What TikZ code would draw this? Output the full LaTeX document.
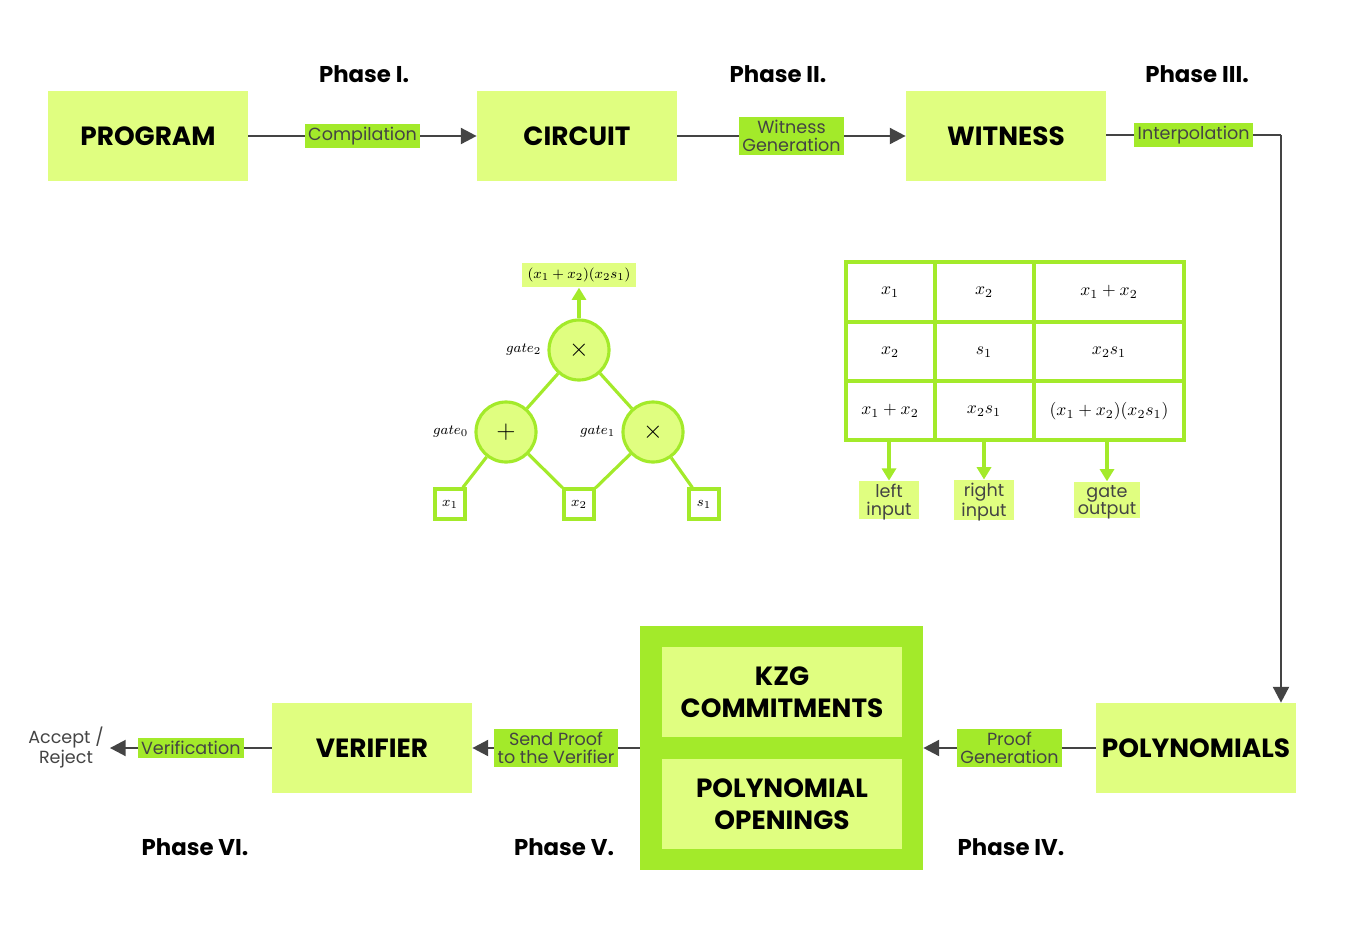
\documentclass[tikz,border=0pt]{standalone}
\usepackage{amsmath}
\usepackage{fontspec}
\setmainfont{Poppins}
\usetikzlibrary{positioning,arrows.meta}
\definecolor{lgreen}{HTML}{E0FE80}
\definecolor{bgreen}{HTML}{A3EA2A}
\definecolor{lgray}{HTML}{444444}
\tikzset{>={Triangle[width=9pt,length=9pt]},
  stage/.style = {fill=lgreen,minimum width=4cm,minimum height=1.8cm,font=\bfseries\fontsize{15}{18}\selectfont,align=center},
  edgelab/.style = {fill=bgreen,font=\fontsize{10}{10}\selectfont,text=lgray,align=center,inner sep=2pt},
  phase/.style = {font=\bfseries\fontsize{13}{15}\selectfont},
  flow/.style = {draw=lgray,line width=1.5pt},
  gate/.style = {shape=circle,draw=bgreen,fill=lgreen,line width=1.8pt,minimum size=1.2cm,font=\Large},
  wire/.style = {draw=bgreen,line width=1.8pt},
  inbox/.style = {draw=bgreen,fill=white,line width=1.8pt,minimum size=0.6cm,inner sep=0pt,font=\footnotesize},
  inlab/.style = {fill=lgreen,font=\fontsize{10}{10}\selectfont,text=lgray,align=center,minimum width=1.2cm,inner sep=2pt,text depth=0pt}}
\begin{document}
\begin{tikzpicture}[x=0.02cm,y=-0.02cm]
\useasboundingbox (0,0) rectangle (1350,934);
% stages
\node[stage] (prog) at (148,136) {PROGRAM};
\node[stage] (circ) at (577,136) {CIRCUIT};
\node[stage] (wit) at (1006,136) {WITNESS};
\node[stage] (poly) at (1196,748) {POLYNOMIALS};
\node[stage] (ver) at (372,748) {VERIFIER};
\node[fill=bgreen,minimum width=5.66cm,minimum height=4.88cm] (kzg) at (781.5,748) {};
\node[stage,minimum width=4.8cm] (com) at (782,692) {KZG\\COMMITMENTS};
\node[stage,minimum width=4.8cm] (open) at (782,804) {POLYNOMIAL\\OPENINGS};
\node (acc) at (66,748) {\fontsize{10}{11}\selectfont\color{lgray}\begin{tabular}{@{}c@{}}Accept /\\Reject\end{tabular}};
\coordinate (turn) at (1281,135);
% phases
\node[phase] at (364,74) {Phase I.};
\node[phase] at (778,74) {Phase II.};
\node[phase] at (1197,74) {Phase III.};
\node[phase] at (1011,847) {Phase IV.};
\node[phase] at (564,847) {Phase V.};
\node[phase] at (195,847) {Phase VI.};
% flow
\draw[flow,->] (prog) -- node[edgelab] {Compilation} (circ);
\draw[flow,->] (circ) -- node[edgelab] {Witness\\Generation} (wit);
\draw[flow] (wit.east |- turn) -- node[edgelab] {Interpolation} (turn);
\draw[flow,->] (turn) -- (turn |- poly.north);
\draw[flow,->] (poly) -- node[edgelab] {Proof\\Generation} (kzg);
\draw[flow,->] (kzg) -- node[edgelab] {Send Proof\\to the Verifier} (ver);
\draw[flow,->] (ver) -- node[edgelab] {Verification} (acc);
% circuit
\node[gate] (g2) at (579,350) {$\times$};
\node[gate] (g0) at (506,432) {$+$};
\node[gate] (g1) at (653,432) {$\times$};
\node[left=0pt of g2,font=\footnotesize] {$gate_2$};
\node[left=0pt of g0,font=\footnotesize] {$gate_0$};
\node[left=0pt of g1,font=\footnotesize] {$gate_1$};
\node[inbox] (x1) at (450,504) {$x_1$};
\node[inbox] (x2) at (579,504) {$x_2$};
\node[inbox] (s1) at (704,504) {$s_1$};
\node[fill=lgreen,font=\footnotesize,inner sep=3pt] (out) at (579,275) {$(x_1+x_2)(x_2s_1)$};
\draw[wire] (g0) -- (g2) (g1) -- (g2) (x1) -- (g0) (x2) -- (g0) (x2) -- (g1) (s1) -- (g1);
\draw[wire,-{Triangle[width=8pt,length=7pt]},bgreen] (g2) -- (out);
% table
\draw[wire] (846,262) rectangle (1184,440);
\draw[wire] (935,262) -- (935,440) (1034,262) -- (1034,440);
\draw[wire] (846,322) -- (1184,322) (846,381) -- (1184,381);
\node at (890,292) {$x_1$}; \node at (984,292) {$x_2$}; \node at (1109,292) {$x_1+x_2$};
\node at (890,352) {$x_2$}; \node at (984,352) {$s_1$}; \node at (1109,352) {$x_2s_1$};
\node at (890,411) {$x_1+x_2$}; \node at (984,411) {$x_2s_1$}; \node at (1109,411) {$(x_1+x_2)(x_2s_1)$};
\coordinate (c1) at (889,440); \coordinate (c2) at (984,440); \coordinate (c3) at (1107,440);
\node[inlab] (li) at (889,500) {left\\input};
\node[inlab] (ri) at (984,500) {right\\input};
\node[inlab] (go) at (1107,500) {gate\\output};
\foreach \a/\b in {c1/li,c2/ri,c3/go}
  \draw[wire,-{Triangle[width=8pt,length=7pt]},bgreen] (\a) -- (\b);
\end{tikzpicture}
\end{document}
